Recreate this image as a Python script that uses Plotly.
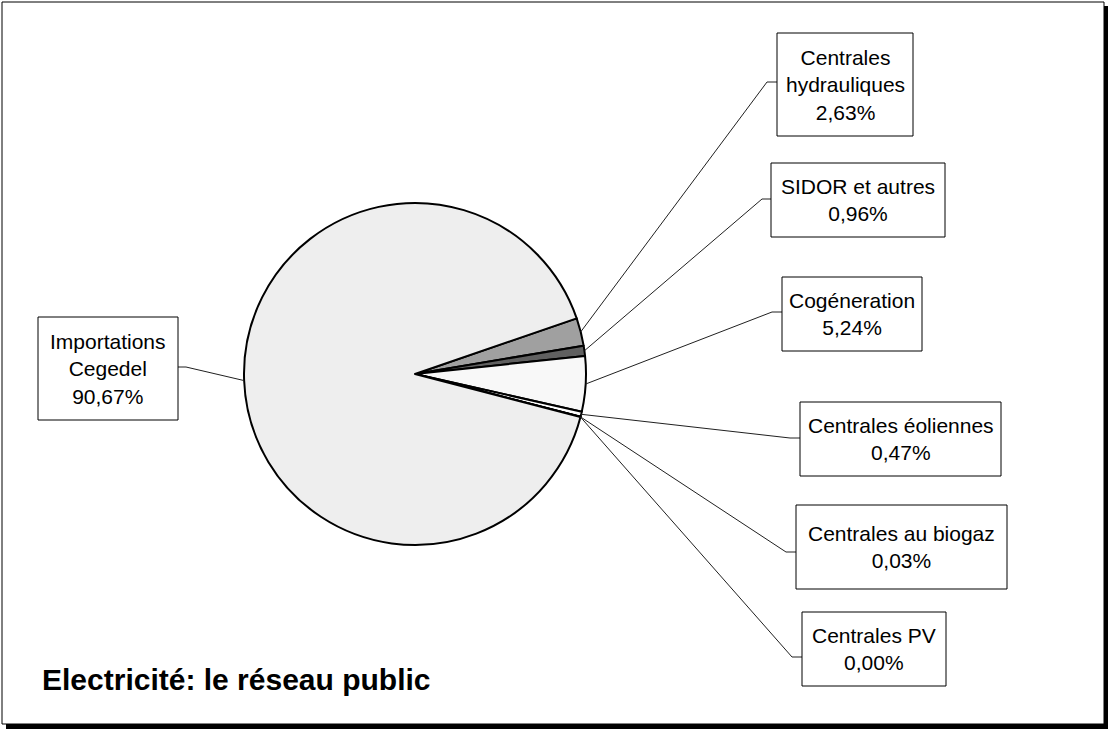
import math
import plotly.graph_objects as go

# ---- data ----
labels = ["Centrales<br>hydrauliques", "SIDOR et autres", "Cogéneration",
          "Centrales éoliennes", "Centrales au biogaz", "Centrales PV",
          "Importations<br>Cegedel"]
values = [2.63, 0.96, 5.24, 0.47, 0.03, 0.00, 90.67]
colors = ["#a0a0a0", "#606060", "#f8f8f8", "#ffffff", "#ffffff", "#ffffff", "#eeeeee"]
title = "Electricité: le réseau public"

# ---- layout constants (pixels) ----
W, H = 1108, 729
CX, CY, R = 415, 374, 171
ROT = 71
FONT = "Liberation Sans, Arial, sans-serif"

# label boxes (x0, y0, x1, y1) and leader-line elbow points, pixel coords
boxes = [(777, 33, 913, 136), (771, 163, 945, 237), (782, 277, 922, 351),
         (800, 402, 1001, 476), (796, 505, 1007, 589), (802, 612, 946, 686),
         (38, 317, 178, 420)]
elbows = [(767, 82), (762, 199), (772, 312), (790, 438), (786, 552), (792, 657), (186, 367)]

def px(x):
    return x / W

def py(y):
    return 1 - y / H

fig = go.Figure(go.Pie(
    labels=[l.replace("<br>", " ") for l in labels],
    values=values,
    sort=False,
    direction="clockwise",
    rotation=ROT,
    textinfo="none",
    hoverinfo="label+percent",
    marker=dict(colors=colors, line=dict(color="black", width=2)),
    domain=dict(x=[px(CX - R), px(CX + R)], y=[py(CY + R), py(CY - R)]),
    showlegend=False,
))

shapes = [
    # drop shadow and frame
    dict(type="rect", xref="paper", yref="paper", x0=px(6), x1=px(1110), y0=py(6), y1=py(731),
         fillcolor="black", line=dict(width=0), layer="below"),
    dict(type="rect", xref="paper", yref="paper", x0=px(2), x1=px(1104), y0=py(2), y1=py(724),
         fillcolor="white", line=dict(color="black", width=1), layer="below"),
]

annotations = []
total = sum(values)
cum = 0.0
for lab, v, box, elb in zip(labels, values, boxes, elbows):
    mid = math.radians(ROT + 360 * (cum + v / 2) / total)
    cum += v
    ex = CX + R * math.sin(mid)
    ey = CY - R * math.cos(mid)
    x0, y0, x1, y1 = box
    bx = x0 if elb[0] > x1 else x1
    by = elb[1]
    shapes.append(dict(type="path", xref="paper", yref="paper",
                       path=f"M {px(ex)},{py(ey)} L {px(elb[0])},{py(elb[1])} L {px(bx)},{py(by)}",
                       line=dict(color="#202020", width=1), layer="above"))
    shapes.append(dict(type="rect", xref="paper", yref="paper",
                       x0=px(x0), x1=px(x1), y0=py(y1), y1=py(y0),
                       fillcolor="white", line=dict(color="black", width=1), layer="above"))
    pct = f"{v:.2f}".replace(".", ",") + "%"
    annotations.append(dict(xref="paper", yref="paper", x=px((x0 + x1) / 2), y=py((y0 + y1) / 2),
                            xanchor="center", yanchor="middle", showarrow=False,
                            text=f"{lab}<br>{pct}", align="center",
                            font=dict(family=FONT, size=21, color="black")))

annotations.append(dict(xref="paper", yref="paper", x=px(40), y=py(679), xanchor="left", yanchor="middle",
                        showarrow=False, text=f"<b>{title}</b>",
                        font=dict(family=FONT, size=30, color="black")))

fig.update_layout(width=W, height=H, margin=dict(l=0, r=0, t=0, b=0),
                  paper_bgcolor="white", plot_bgcolor="white",
                  shapes=shapes, annotations=annotations)

fig.write_html("out.html")
